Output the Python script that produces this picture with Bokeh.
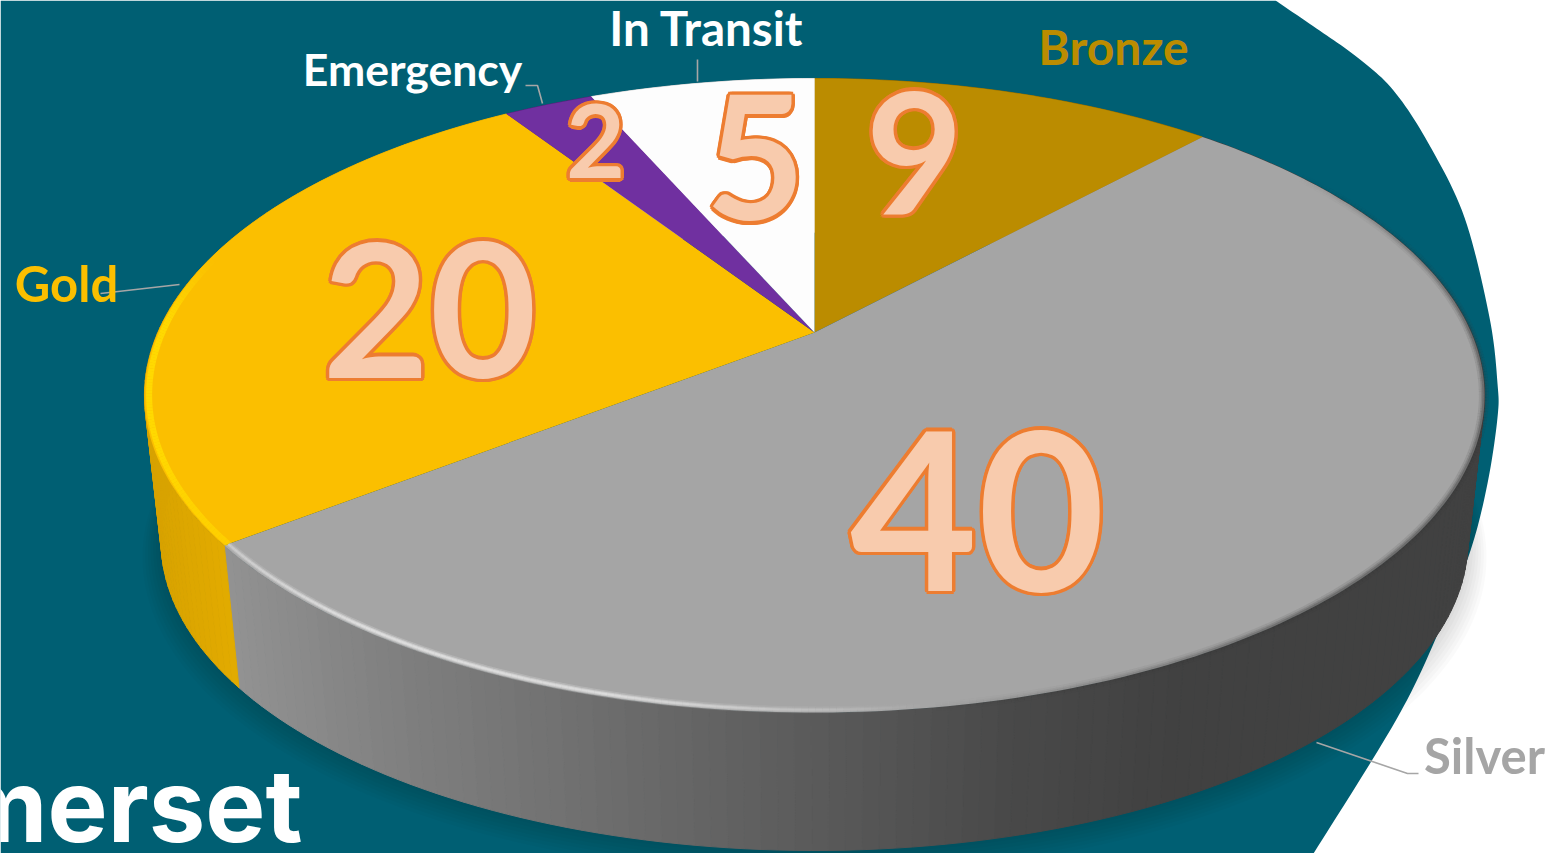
import numpy as np
from bokeh.plotting import figure
from bokeh.models import Range1d, ColumnDataSource
from bokeh.core.properties import value
from bokeh.embed import file_html
from bokeh.resources import INLINE

categories = ["Bronze", "Silver", "Gold", "Emergency", "In Transit"]
counts = [9, 40, 20, 2, 5]
top_colors = ["#bb8c00", "#a5a5a5", "#fbbf00", "#7030a0", "#fdfdfd"]
wall_colors = ["#8f6b00", "#808080", "#dba600", "#55247a", "#cccccc"]
label_colors = ["#bb8c00", "#a5a5a5", "#fbbf00", "#ffffff", "#ffffff"]

# layout of the perspective disc, in picture pixels
CX, CY, A, B, K = 814, 332, 656.7, 304.5, 0.1987
LOW_S, LOW_CY = 0.975, 479.5
TEAL = "#005f73"
CURVE_X = [1275, 1316, 1357, 1393, 1428, 1464, 1489, 1497, 1497, 1487, 1470, 1440, 1397, 1313]
CURVE_Y = [0, 28, 57, 90, 143, 217, 317, 383, 417, 483, 550, 627, 717, 853]

def spline(x, y, n=12):
    P = np.c_[x, y].astype(float)
    P = np.vstack([P[0], P, P[-1]])
    out = []
    for i in range(1, len(P) - 2):
        p0, p1, p2, p3 = P[i - 1], P[i], P[i + 1], P[i + 2]
        for t in np.linspace(0, 1, n, endpoint=False):
            out.append(0.5 * (2 * p1 + (p2 - p0) * t + (2 * p0 - 5 * p1 + 4 * p2 - p3) * t ** 2
                              + (3 * p1 - p0 - 3 * p2 + p3) * t ** 3))
    out.append(P[-1])
    out = np.array(out)
    return out[:, 0], out[:, 1]

def project(deg, s=1.0, cy=CY):
    t = np.radians(deg)
    u, v = np.sin(t), -np.cos(t)
    d = 1 - K * v
    return CX + s * A * u / d, cy + s * B * v / d

def base(y, px):
    # Bokeh's alphabetic anchor sits above the glyph baseline by a share of the size
    return y - (0.36 * px + 2.6)

p = figure(width=1559, height=853, output_backend="svg", toolbar_location=None,
           x_range=Range1d(0, 1559), y_range=Range1d(853, 0), min_border=0)
p.axis.visible = False
p.grid.visible = False
p.outline_line_color = None
p.background_fill_color = "#ffffff"

cx, cy = spline(CURVE_X, CURVE_Y)
p.patch(np.r_[0, cx, 0], np.r_[0, cy, 853], fill_color=TEAL, line_color=None)

# soft shadow
full = np.linspace(0, 360, 241)
for i in range(8):
    sx, sy = project(full, LOW_S + 0.004 * i, LOW_CY + 2 * i)
    p.patch(sx, sy, fill_color="#000000", fill_alpha=0.018, line_color=None)

starts = np.cumsum([0] + counts[:-1]) / sum(counts) * 360
ends = np.cumsum(counts) / sum(counts) * 360

# walls
wx, wy, wc = [], [], []
for name, a0, a1, col in zip(categories, starts, ends, wall_colors):
    n = max(2, int((a1 - a0) / 1.2))
    ang = np.linspace(a0, a1, n + 1)
    for a, b in zip(ang[:-1], ang[1:]):
        tx, ty = project(np.array([a, b]))
        lx, ly = project(np.array([b, a]), LOW_S, LOW_CY)
        xm = (tx.mean() + lx.mean()) / 2
        if name == "Silver":
            g = int(np.interp(xm, [235, 400, 600, 800, 1000, 1180], [146, 128, 110, 92, 74, 65]))
            c = "#%02x%02x%02x" % (g, g, g)
        elif name == "Gold":
            g = np.interp(xm, [145, 235], [0, 1])
            c = "#%02x%02x00" % (int(215 + 12 * g), int(162 + 10 * g))
        else:
            c = col
        wx.append(np.r_[tx, lx]); wy.append(np.r_[ty, ly]); wc.append(c)
p.patches(wx, wy, fill_color=wc, line_color=wc, line_width=1)

# top faces
fx, fy = [], []
for a0, a1 in zip(starts, ends):
    ang = np.linspace(a0, a1, max(3, int((a1 - a0) / 1.0)))
    x, y = project(ang)
    fx.append(np.r_[CX, x]); fy.append(np.r_[CY, y])
p.patches(fx, fy, fill_color=top_colors, line_color=None)

# bevel on the rim
def rim(a0, a1, s, color, alpha_fn, width):
    ang = np.linspace(a0, a1, int(a1 - a0) * 2 + 2)
    x, y = project(ang, s)
    xs = [[x[i], x[i + 1]] for i in range(len(x) - 1)]
    ys = [[y[i], y[i + 1]] for i in range(len(y) - 1)]
    al = [float(alpha_fn((ang[i] + ang[i + 1]) / 2)) for i in range(len(x) - 1)]
    src = ColumnDataSource(dict(xs=xs, ys=ys, al=al))
    p.multi_line("xs", "ys", source=src, line_color=color, line_alpha="al", line_width=width, line_cap="butt")

silver_end = ends[1]
for w, al in [(7, 0.25), (4, 0.5), (2, 0.6)]:
    rim(172, silver_end, 0.993, "#e8e8e8",
        lambda a, al=al: al * np.interp(a, [172, 195, 215, silver_end], [0.0, 0.9, 1.0, 0.5]), w)
for w, al in [(10, 0.12), (6, 0.2), (3, 0.3)]:
    rim(55, 172, 0.999, "#3a3a3a",
        lambda a, al=al: al * np.interp(a, [55, 90, 140, 172], [0.0, 1.0, 1.0, 0.0]), w)
rim(silver_end, 285, 0.993, "#ffd900",
    lambda a: np.interp(a, [silver_end, 250, 272, 285], [0.6, 1.0, 1.0, 0.0]), 6)

# leader lines
leader_x = [[1316, 1407, 1418], [100, 179], [525, 537, 542], [697, 697]]
leader_y = [[742, 773, 773], [293, 284], [85, 85, 103], [59, 81]]
p.multi_line(leader_x, leader_y, line_color="#a6a6a6", line_width=1.6)

# category labels
label_x = [1113, 1484, 66, 412, 706]
label_y = [66, 775, 303, 87, 47]
label_px = [48, 49, 49, 44.5, 47.5]
for x, y, t, c, s in zip(label_x, label_y, categories, label_colors, label_px):
    p.text([x], [base(y, s)], text=[t], text_color=c, text_font=value("Lato"),
           text_font_style="bold", text_font_size=f"{s}px", text_align="center", text_baseline="alphabetic")

# value labels
num_x = [914, 977, 429, 595, 755]
num_y = [216, 592, 379, 180, 222]
num_px = [168, 220, 185, 102, 172]
theta = np.radians(np.arange(0, 360, 30))
for x, y, n, s in zip(num_x, num_y, counts, num_px):
    r = 3.5
    yb = base(y, s)
    p.text(x + r * np.cos(theta), yb + r * np.sin(theta), text=[str(n)] * len(theta), text_color="#ed7d31",
           text_font=value("Lato"), text_font_style="bold", text_font_size=f"{s}px",
           text_align="center", text_baseline="alphabetic")
    p.text([x], [yb], text=[str(n)], text_color="#f8cbad",
           text_font=value("Lato"), text_font_style="bold", text_font_size=f"{s}px",
           text_align="center", text_baseline="alphabetic")

p.text([302], [base(843, 101)], text=["Somerset"], text_color="#ffffff", text_font=value("Inter"),
       text_font_style="bold", text_font_size="101px", text_align="right", text_baseline="alphabetic")

open("out.html", "w").write(file_html(p, INLINE))
